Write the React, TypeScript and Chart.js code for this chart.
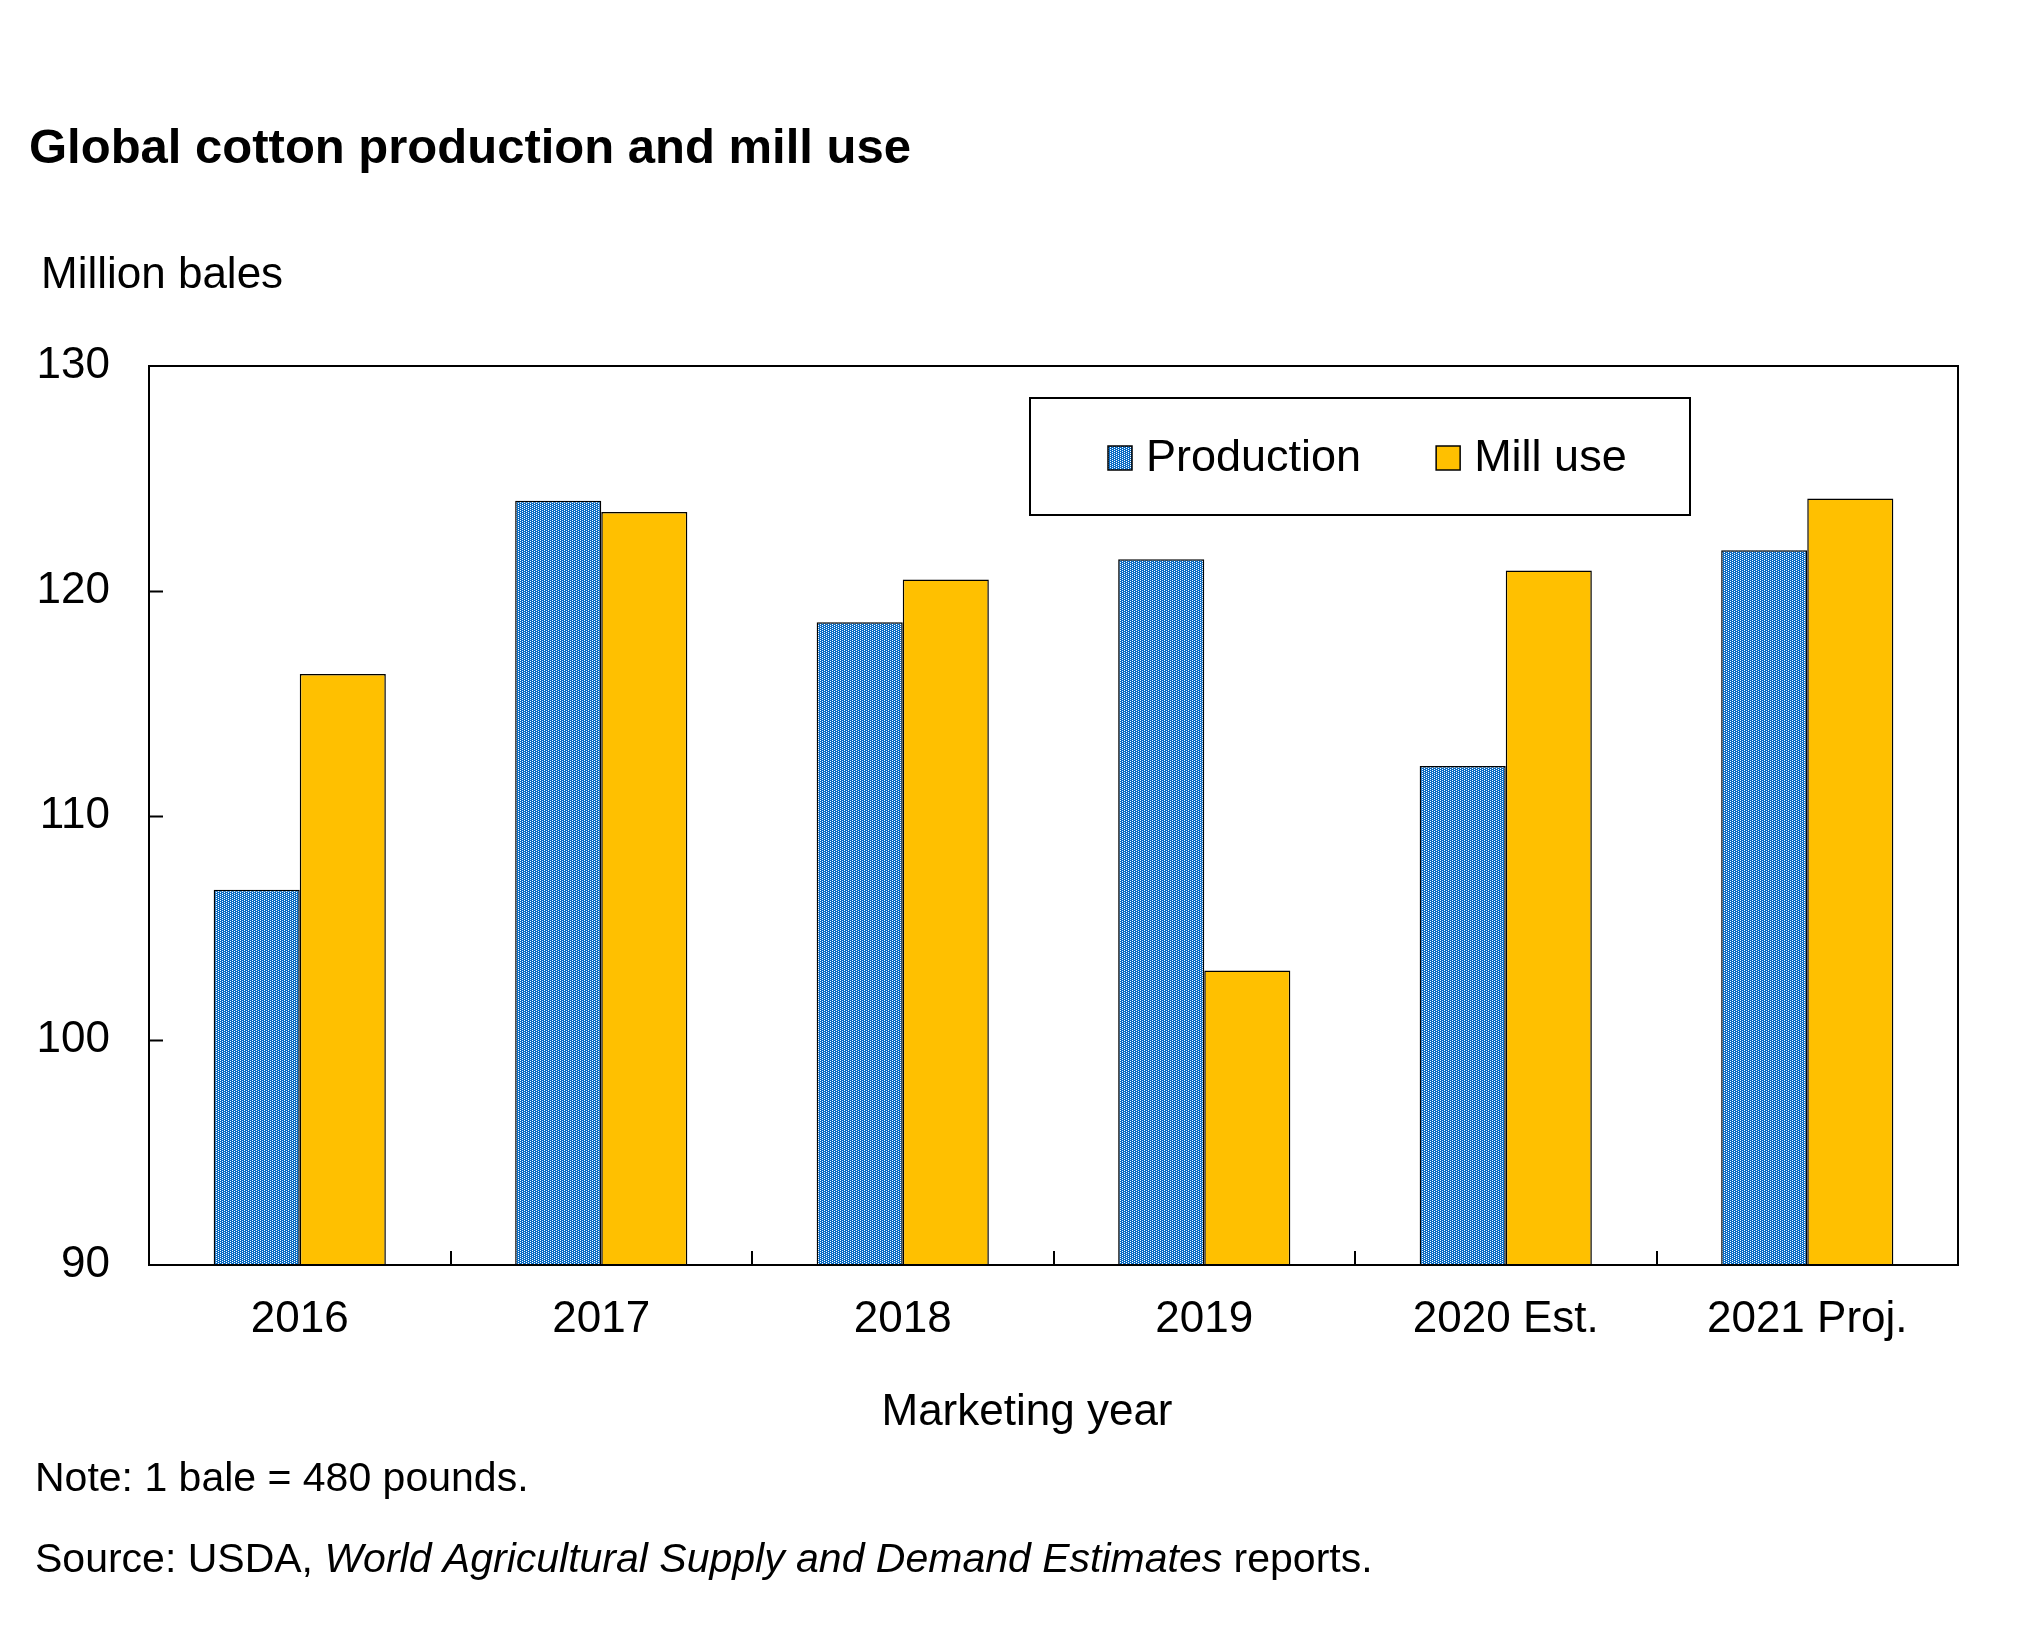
import React, { useEffect, useRef } from 'react';
import Chart from 'chart.js/auto';

const years = ['2016', '2017', '2018', '2019', '2020 Est.', '2021 Proj.'];
const production = [106.7, 124.0, 118.6, 121.4, 112.2, 121.8];
const millUse = [116.3, 123.5, 120.5, 103.1, 120.9, 124.1];
const yTicks = [90, 100, 110, 120, 130];

const FONT = 'Liberation Sans, Arial, sans-serif';

// blue dither with staggered white dots, like the source's pattern fill
const makePattern = (ctx: CanvasRenderingContext2D) => {
    const tile = document.createElement('canvas');
    tile.width = 4;
    tile.height = 2;
    const t = tile.getContext('2d')!;
    t.fillStyle = '#0a6cc4';
    t.fillRect(0, 0, 4, 2);
    t.fillStyle = '#ffffff';
    t.fillRect(0, 0, 1, 1);
    t.fillRect(2, 1, 1, 1);
    return ctx.createPattern(tile, 'repeat') as CanvasPattern;
};

const extras = {
    id: 'extras',
    afterDraw(chart: any) {
        const ctx: CanvasRenderingContext2D = chart.ctx;
        const area = chart.chartArea;
        const x = chart.scales.x;
        const y = chart.scales.y;
        ctx.save();
        ctx.strokeStyle = '#000';
        ctx.lineWidth = 2;

        // plot frame
        ctx.strokeRect(area.left, area.top, area.right - area.left, area.bottom - area.top);

        // inside tick marks
        ctx.beginPath();
        yTicks.slice(1, -1).forEach((v) => {
            const py = Math.round(y.getPixelForValue(v)) + 0.5;
            ctx.moveTo(area.left, py);
            ctx.lineTo(area.left + 14, py);
        });
        for (let i = 1; i < years.length; i++) {
            const px = Math.round((x.getPixelForTick(i - 1) + x.getPixelForTick(i)) / 2);
            ctx.moveTo(px, area.bottom);
            ctx.lineTo(px, area.bottom - 14);
        }
        ctx.stroke();

        ctx.fillStyle = '#000';
        ctx.textBaseline = 'alphabetic';
        ctx.textAlign = 'left';

        ctx.font = `bold 49px ${FONT}`;
        ctx.fillText('Global cotton production and mill use', 29, 163);

        ctx.font = `44px ${FONT}`;
        ctx.fillText('Million bales', 41, 288);

        ctx.textAlign = 'center';
        ctx.fillText('Marketing year', 1027, 1425);

        ctx.textAlign = 'left';
        ctx.font = `41px ${FONT}`;
        ctx.fillText('Note: 1 bale = 480 pounds.', 35, 1491);

        let sx = 35;
        const parts: [string, string][] = [
            ['Source: USDA, ', 'normal'],
            ['World Agricultural Supply and Demand Estimates', 'italic'],
            [' reports.', 'normal'],
        ];
        parts.forEach(([txt, style]) => {
            ctx.font = `${style} 41px ${FONT}`;
            ctx.fillText(txt, sx, 1572);
            sx += ctx.measureText(txt).width;
        });

        // legend box
        ctx.strokeRect(1030, 398, 660, 117);
        ctx.font = `45px ${FONT}`;
        let lx = 1108;
        chart.data.datasets.forEach((ds: any) => {
            ctx.fillStyle = ds.backgroundColor;
            ctx.fillRect(lx, 446, 24, 24);
            ctx.lineWidth = 1.5;
            ctx.strokeRect(lx, 446, 24, 24);
            ctx.fillStyle = '#000';
            ctx.fillText(ds.label, lx + 38, 471);
            lx += 38 + ctx.measureText(ds.label).width + 75;
        });
        ctx.restore();
    },
};

const App: React.FC = () => {
    const chartRef = useRef<HTMLCanvasElement>(null);

    useEffect(() => {
        if (!chartRef.current) return;
        const ctx = chartRef.current.getContext('2d');
        if (!ctx) return;
        const pattern = makePattern(ctx);

        const chart = new Chart(ctx, {
            type: 'bar',
            data: {
                labels: years,
                datasets: [
                    {
                        label: 'Production',
                        data: production,
                        backgroundColor: pattern as any,
                        borderColor: '#000',
                        borderWidth: 1.5,
                        categoryPercentage: 0.571,
                        barPercentage: 1,
                    },
                    {
                        label: 'Mill use',
                        data: millUse,
                        backgroundColor: '#ffc000',
                        borderColor: '#000',
                        borderWidth: 1.5,
                        categoryPercentage: 0.571,
                        barPercentage: 1,
                    },
                ],
            },
            options: {
                animation: false,
                responsive: true,
                maintainAspectRatio: false,
                devicePixelRatio: 1,
                layout: { padding: { top: 366, right: 82, left: 0, bottom: 0 } },
                plugins: {
                    legend: { display: false },
                    title: { display: false },
                    tooltip: { enabled: false },
                },
                scales: {
                    x: {
                        grid: { display: false, drawTicks: false },
                        border: { display: false },
                        ticks: {
                            color: '#000',
                            padding: 28,
                            maxRotation: 0,
                            font: { family: FONT, size: 44 },
                        },
                        afterFit: (scale: any) => {
                            scale.height = 367;
                        },
                    },
                    y: {
                        min: 90,
                        max: 130,
                        grid: { display: false, drawTicks: false },
                        border: { display: false },
                        ticks: {
                            stepSize: 10,
                            color: '#000',
                            padding: 39,
                            font: { family: FONT, size: 44 },
                        },
                        afterFit: (scale: any) => {
                            scale.width = 149;
                        },
                    },
                },
            },
            plugins: [extras],
        });

        return () => {
            chart.destroy();
        };
    }, []);

    return (
        <div style={{ position: 'absolute', left: 0, top: 0, width: 2040, height: 1632, background: '#fff' }}>
            <canvas ref={chartRef} />
        </div>
    );
};

export default App;
